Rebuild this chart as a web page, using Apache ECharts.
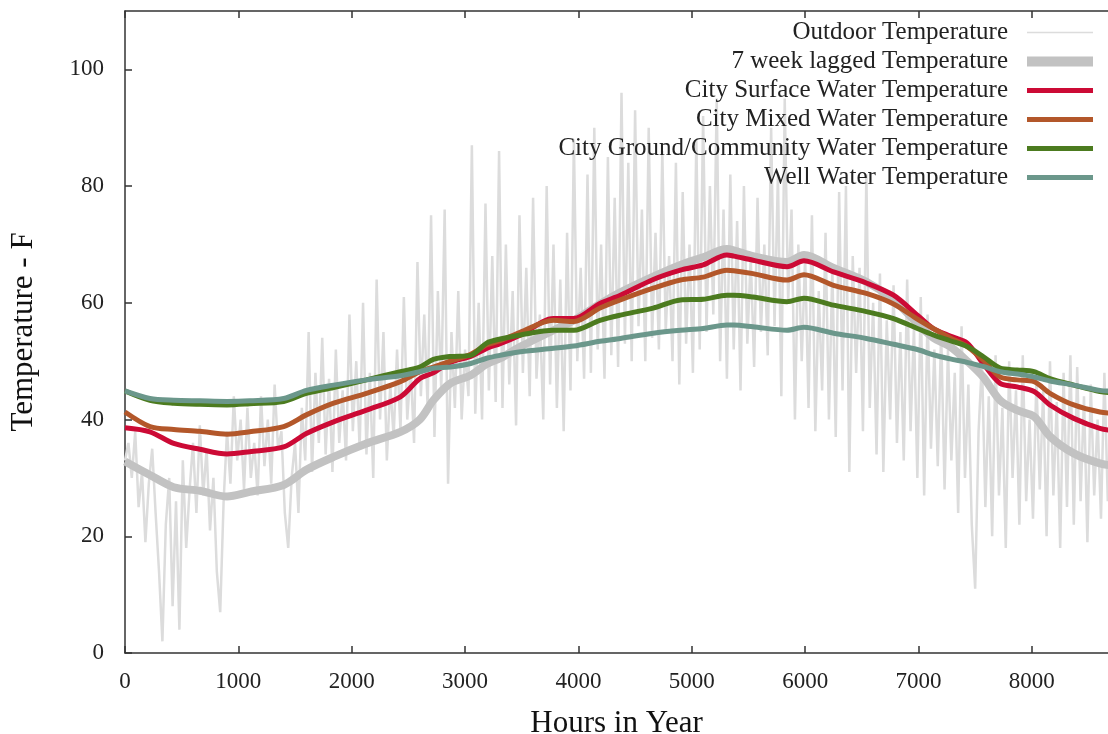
<!DOCTYPE html>
<html>
<head>
<meta charset="utf-8">
<script src="https://cdn.jsdelivr.net/npm/echarts@6/dist/echarts.min.js"></script>
<style>
html,body{margin:0;padding:0;background:#fff;}
#chart{width:1108px;height:734px;}
</style>
</head>
<body>
<div id="chart"></div>
<script>
// ---- data ----
var seriesNames = [
  'Outdoor Temperature',
  '7 week lagged Temperature',
  'City Surface Water Temperature',
  'City Mixed Water Temperature',
  'City Ground/Community Water Temperature',
  'Well Water Temperature'
];
var xTicks = [0, 1000, 2000, 3000, 4000, 5000, 6000, 7000, 8000];
var yTicks = [0, 20, 40, 60, 80, 100];

// outdoor temperature sampled every 30 hours
var outdoorStep = 30;
var outdoorTemp = [
  33,36,30,38,25,31,19,29,35,24,
  14,2,22,30,8,26,4,33,18,28,
  36,24,39,27,35,21,30,14,7,26,
  38,29,44,33,40,28,42,30,36,27,
  44,32,40,29,46,35,38,24,18,30,
  36,24,42,33,55,31,48,36,54,34,
  47,31,52,36,45,33,58,38,50,35,
  60,34,48,30,64,40,55,33,46,37,
  52,38,61,40,49,36,67,44,58,42,
  75,37,62,45,76,29,55,42,62,40,
  52,44,87,41,60,40,77,45,68,43,
  86,42,70,46,62,39,75,48,66,44,
  78,47,58,40,80,46,70,42,64,38,
  72,45,88,50,66,47,82,48,90,52,
  70,47,85,51,78,49,96,53,84,50,
  93,56,76,50,90,54,72,52,86,55,
  68,50,84,46,79,53,70,48,88,52,
  92,55,80,58,95,50,76,47,82,52,
  74,45,80,53,68,49,78,55,70,51,
  90,56,82,44,95,60,76,40,70,50,
  68,42,75,38,62,45,72,40,66,37,
  79,45,80,31,68,48,66,38,82,42,
  60,34,65,31,57,40,63,36,55,33,
  64,38,56,30,61,27,58,35,52,32,
  55,28,52,33,48,24,56,30,46,22,
  11,38,50,25,44,20,51,27,42,18,
  50,30,45,22,51,26,40,23,47,28,
  45,20,50,27,43,18,48,25,51,22,
  49,26,44,19,46,27,40,23,48,26,
  42,30
];

var smoothHours = [0,220,430,660,900,1100,1400,1600,1840,2130,2430,2600,2720,2870,3050,3190,3310,3490,3780,3960,4190,4370,4660,4900,5100,5310,5370,5540,5840,5990,6250,6540,6780,6990,7130,7280,7430,7570,7720,7870,8020,8160,8370,8600,8760];

var laggedTemp = [32.8,30.5,28.4,27.8,26.8,27.6,28.8,31.4,33.6,35.9,37.9,40.0,43.3,46.2,47.6,49.5,50.5,52.5,55.3,57.0,59.8,61.8,64.5,66.5,67.8,69.2,69.0,68.0,67.0,68.2,66.0,63.6,60.5,56.5,54.0,52.5,50.0,47.3,43.3,41.6,40.5,37.1,34.2,32.5,32.0];
var surfaceTemp = [38.6,37.9,35.9,34.9,34.1,34.5,35.3,37.6,39.6,41.6,43.9,47.0,48.0,49.8,50.8,52.2,53.0,54.5,57.3,57.3,59.9,61.3,64.0,65.6,66.5,68.2,68.0,67.3,66.2,67.2,65.3,63.4,61.3,57.9,55.6,54.3,53.1,49.6,46.2,45.6,44.8,42.5,40.2,38.5,38.0];
var mixedTemp = [41.3,38.8,38.3,38.0,37.5,37.9,38.8,40.8,42.8,44.5,46.5,48.2,49.0,50.0,51.2,52.8,53.5,55.0,57.0,56.8,59.1,60.5,62.5,63.9,64.4,65.6,65.5,65.0,63.9,64.8,63.0,61.6,59.8,57.2,55.6,54.0,52.5,50.2,47.3,46.8,46.5,44.5,42.5,41.3,41.0];
var groundTemp = [44.9,43.3,42.8,42.6,42.5,42.7,43.1,44.5,45.5,46.8,48.2,49.0,50.3,50.8,51.0,53.1,53.8,54.5,55.3,55.3,57.0,57.9,59.1,60.5,60.6,61.3,61.3,61.0,60.2,60.8,59.6,58.5,57.3,55.6,54.5,53.5,52.5,50.8,48.8,48.5,48.2,47.0,45.9,44.8,44.5];
var wellTemp = [44.9,43.6,43.3,43.2,43.1,43.2,43.6,45.0,45.9,46.8,47.5,48.2,48.8,49.0,49.6,50.5,51.0,51.6,52.2,52.6,53.4,53.9,54.8,55.3,55.6,56.2,56.2,55.9,55.3,55.8,54.8,53.9,52.9,52.0,51.1,50.4,49.8,49.1,48.2,47.8,47.3,46.6,45.9,45.0,44.8];

// ---- styles ----
var colors = ['#dcdcdc', '#c2c2c2', '#cc0a35', '#b3572a', '#4c7b1f', '#6b978b'];
var widths = [2.5, 8, 5, 5, 5, 5];
var legendWidths = [1.5, 10, 5, 5, 5, 5];
var FONT = 'Liberation Serif';

function pairs(xs, ys) {
  var out = [];
  for (var i = 0; i < ys.length; i++) out.push([xs[i], ys[i]]);
  return out;
}
var outdoorData = [];
for (var i = 0; i < outdoorTemp.length; i++) outdoorData.push([i * outdoorStep, outdoorTemp[i]]);

var allData = [
  outdoorData,
  pairs(smoothHours, laggedTemp),
  pairs(smoothHours, surfaceTemp),
  pairs(smoothHours, mixedTemp),
  pairs(smoothHours, groundTemp),
  pairs(smoothHours, wellTemp)
];

var series = seriesNames.map(function (n, k) {
  return {
    name: n,
    type: 'line',
    data: allData[k],
    symbol: 'none',
    showSymbol: false,
    smooth: k === 0 ? false : 0.3,
    lineStyle: { color: colors[k], width: widths[k] },
    itemStyle: { color: colors[k] },
    z: 2 + k,
    silent: true
  };
});

var axisLineStyle = { color: '#333', width: 1.5 };
var chart = echarts.init(document.getElementById('chart'), null, { renderer: 'canvas' });
chart.setOption({
  animation: false,
  backgroundColor: '#fff',
  grid: { left: 125, top: 11, bottom: 81, right: -10, containLabel: false, outerBoundsMode: 'none' },
  legend: {
    orient: 'vertical',
    right: 5,
    top: 15,
    align: 'right',
    itemWidth: 66,
    itemHeight: 14,
    itemGap: 4,
    textStyle: { fontFamily: FONT, fontSize: 25, color: '#222', lineHeight: 24, padding: [0, 14, 0, 0] },
    data: seriesNames.map(function (n, k) {
      return {
        name: n,
        lineStyle: { width: legendWidths[k], color: colors[k] },
        itemStyle: { color: 'rgba(0,0,0,0)', borderWidth: 0, opacity: 0 }
      };
    }),
    selectedMode: false
  },
  xAxis: [
    {
      type: 'value', min: 0, max: 8760, interval: 1000, position: 'bottom',
      axisLine: { show: true, lineStyle: axisLineStyle },
      axisTick: { show: true, inside: true, length: 7, lineStyle: axisLineStyle },
      axisLabel: {
        fontFamily: FONT, fontSize: 23, color: '#222', margin: 17, showMaxLabel: false,
        formatter: function (v) { return xTicks.indexOf(v) >= 0 ? String(v) : ''; }
      },
      splitLine: { show: false },
      name: 'Hours in Year', nameLocation: 'middle', nameGap: 55,
      nameTextStyle: { fontFamily: FONT, fontSize: 31, color: '#111', padding: [0, 10, 0, 0] }
    },
    {
      type: 'value', min: 0, max: 8760, interval: 1000, position: 'top',
      axisLine: { show: true, lineStyle: axisLineStyle },
      axisTick: { show: true, inside: true, length: 7, lineStyle: axisLineStyle },
      axisLabel: { show: false },
      splitLine: { show: false }
    }
  ],
  yAxis: {
    type: 'value', min: 0, max: 110, interval: 20,
    axisLine: { show: true, lineStyle: axisLineStyle },
    axisTick: { show: true, inside: true, length: 7, lineStyle: axisLineStyle },
    axisLabel: {
      fontFamily: FONT, fontSize: 23, color: '#222', margin: 21, showMaxLabel: false,
      formatter: function (v) { return yTicks.indexOf(v) >= 0 ? String(v) : ''; }
    },
    splitLine: { show: false },
    name: 'Temperature - F', nameLocation: 'middle', nameGap: 86, nameRotate: 90,
    nameTextStyle: { fontFamily: FONT, fontSize: 31, color: '#111' }
  },
  series: series
});
</script>
</body>
</html>
